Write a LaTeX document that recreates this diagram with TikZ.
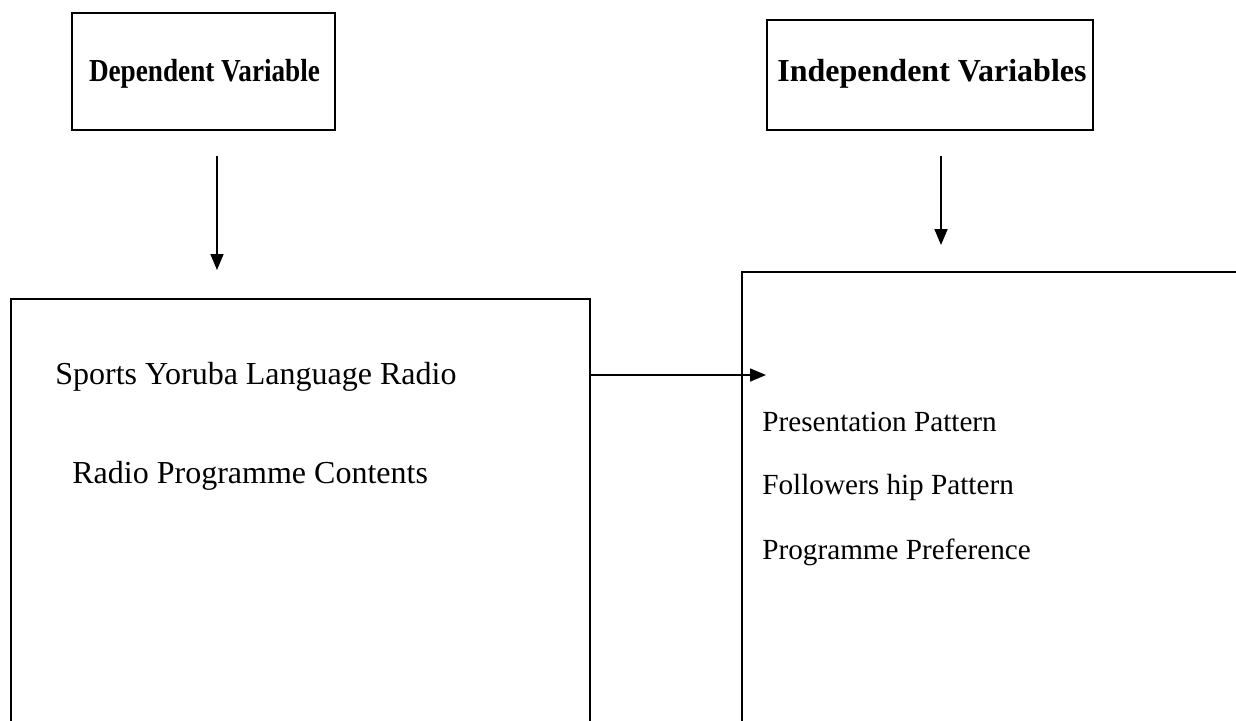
\documentclass[tikz,border=0pt]{standalone}
\usepackage{fontspec}
\setmainfont{Liberation Serif}
\usetikzlibrary{arrows.meta,calc}
\tikzset{
  frame/.style={draw, line width=1pt, inner sep=0pt, anchor=north west},
  head/.style={font=\fontsize{16}{18}\selectfont\bfseries},
  item/.style={anchor=west, inner sep=0pt, font=\fontsize{16}{19}\selectfont},
  itemr/.style={anchor=west, inner sep=0pt, font=\fontsize{14.6}{17}\selectfont},
  link/.style={line width=0.8pt, -{Triangle[width=6.5pt,length=8pt]}}
}
\begin{document}
\begin{tikzpicture}[x=0.5pt,y=-0.5pt]
\clip (0,0) rectangle (1236,720);
\fill[white] (0,0) rectangle (1236,720);
% heading boxes
\node[frame, minimum width=131.5pt, minimum height=58.5pt] (dep) at (71,12) {};
\node[head] at ($(dep.center)+(1,2)$) {\scalebox{0.85}[1]{Dependent Variable}};
\node[frame, minimum width=163pt, minimum height=55pt] (ind) at (766,19) {};
\node[head] at ($(ind.center)+(2,-1)$) {Independent Variables};
% main boxes (running past the lower edge)
\node[frame, minimum width=289.5pt, minimum height=250pt] (lbox) at (10,298) {};
\node[frame, minimum width=300pt, minimum height=250pt] (rbox) at (741,271) {};
% texts
\node[item] (t1) at (55,377) {Sports Yoruba Language Radio};
\node[item] (t2) at (72,476) {Radio Programme Contents};
\node[itemr] (t3) at (762,422) {Presentation Pattern};
\node[itemr] (t4) at (762,487) {Followers hip Pattern};
\node[itemr] (t5) at (762,552) {Programme Preference};
% connectors
\coordinate (a1) at (217,156);
\coordinate (a2) at (941,156);
\draw[link, shorten >=14pt] (a1) -- (a1 |- lbox.north);
\draw[link, shorten >=13pt] (a2) -- (a2 |- rbox.north);
\coordinate (h1) at (lbox.east |- 0,375);
\draw[link, shorten >=-12.5pt] (h1) -- (rbox.west |- h1);
\end{tikzpicture}
\end{document}
